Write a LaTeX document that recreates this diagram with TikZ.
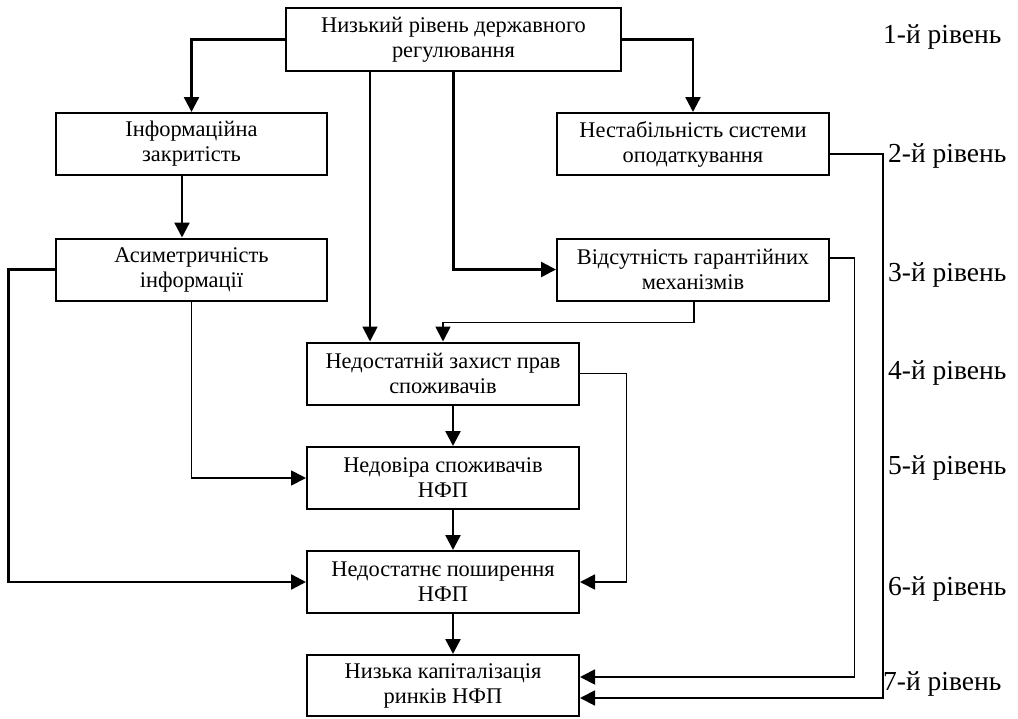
\documentclass[tikz,border=0pt]{standalone}
\usepackage{fontspec}
\setmainfont{Liberation Serif}
\usetikzlibrary{arrows.meta}

\tikzset{
  box/.style={draw, line width=2pt, align=center, inner sep=0pt,
    font=\fontsize{22.4}{25}\selectfont},
  boxA/.style={box, minimum width=271pt, minimum height=62pt},
  boxB/.style={box, minimum width=272pt, minimum height=62pt},
  level/.style={anchor=base west, inner sep=0pt, font=\fontsize{27.5}{30}\selectfont},
  link/.style={line width=1.8pt, -{Triangle[length=15pt,width=15pt]}},
  thicklink/.style={link, line width=2.4pt},
}

\begin{document}
\begin{tikzpicture}[x=1pt, y=-1pt]
  \useasboundingbox (0,0) rectangle (1018,718);

  % boxes
  \node[box, minimum width=335pt, minimum height=63pt] (top) at (453.5,39.5)
    {Низький рівень державного\\регулювання};
  \node[boxA] (info) at (191.5,144) {Інформаційна\\закритість};
  \node[boxB] (tax)  at (693,144)   {Нестабільність системи\\оподаткування};
  \node[boxA] (asym) at (191.5,269.5) {Асиметричність\\інформації};
  \node[boxB] (guar) at (693,269.5) {Відсутність гарантійних\\механізмів};
  \node[boxB] (prot) at (443,373.5) {Недостатній захист прав\\споживачів};
  \node[boxB] (trust) at (443,478) {Недовіра споживачів\\НФП};
  \node[boxB] (spread) at (443,582) {Недостатнє поширення\\НФП};
  \node[boxB, minimum height=61pt] (cap) at (443,685.5) {Низька капіталізація\\ринків НФП};

  % level labels
  \node[level] (l1) at (883,43)  {1-й рівень};
  \node[level] (l2) at (888,162) {2-й рівень};
  \node[level] (l3) at (888,281) {3-й рівень};
  \node[level] (l4) at (888,379) {4-й рівень};
  \node[level] (l5) at (888,474) {5-й рівень};
  \node[level] (l6) at (888,595) {6-й рівень};
  \node[level] (l7) at (883,690) {7-й рівень};

  % routing columns
  \coordinate (colL)  at (8.5,0);
  \coordinate (colA)  at (370,0);
  \coordinate (colP)  at (626.5,0);
  \coordinate (colG)  at (854.5,0);
  \coordinate (colT)  at (883,0);

  % connectors
  \draw[thicklink] (top.west) -| (info.north);
  \draw[thicklink] (top.east) -| (tax.north);
  \draw[link] (top.south -| colA) -- (prot.north -| colA);
  \draw[thicklink] (top.south) |- (guar.west);
  \draw[thicklink] ([xshift=-9.5pt]info.south) -- ([xshift=-9.5pt]asym.north);
  \draw[thicklink] (asym.west) -- (asym.west -| colL) |- (spread.west);
  \draw[link] (asym.south) |- (trust.west);
  \draw[link] ([xshift=1pt]guar.south) -- ++(0,21) -| (prot.north);
  \draw[link] (prot.east) -- (prot.east -| colP) |- (spread.east);
  \draw[thicklink] ([xshift=10pt]prot.south) -- ([xshift=10pt]trust.north);
  \draw[thicklink] ([xshift=10pt]trust.south) -- ([xshift=10pt]spread.north);
  \draw[thicklink] ([xshift=10pt]spread.south) -- ([xshift=10pt]cap.north);
  \draw[link] ([yshift=-10pt]tax.east) -- ([yshift=-10pt]tax.east -| colT)
    |- ([yshift=-12.5pt]cap.east);
  \draw[link] ([yshift=11.5pt]guar.east) -- ([yshift=11.5pt]guar.east -| colG)
    |- ([yshift=8.5pt]cap.east);
\end{tikzpicture}
\end{document}
